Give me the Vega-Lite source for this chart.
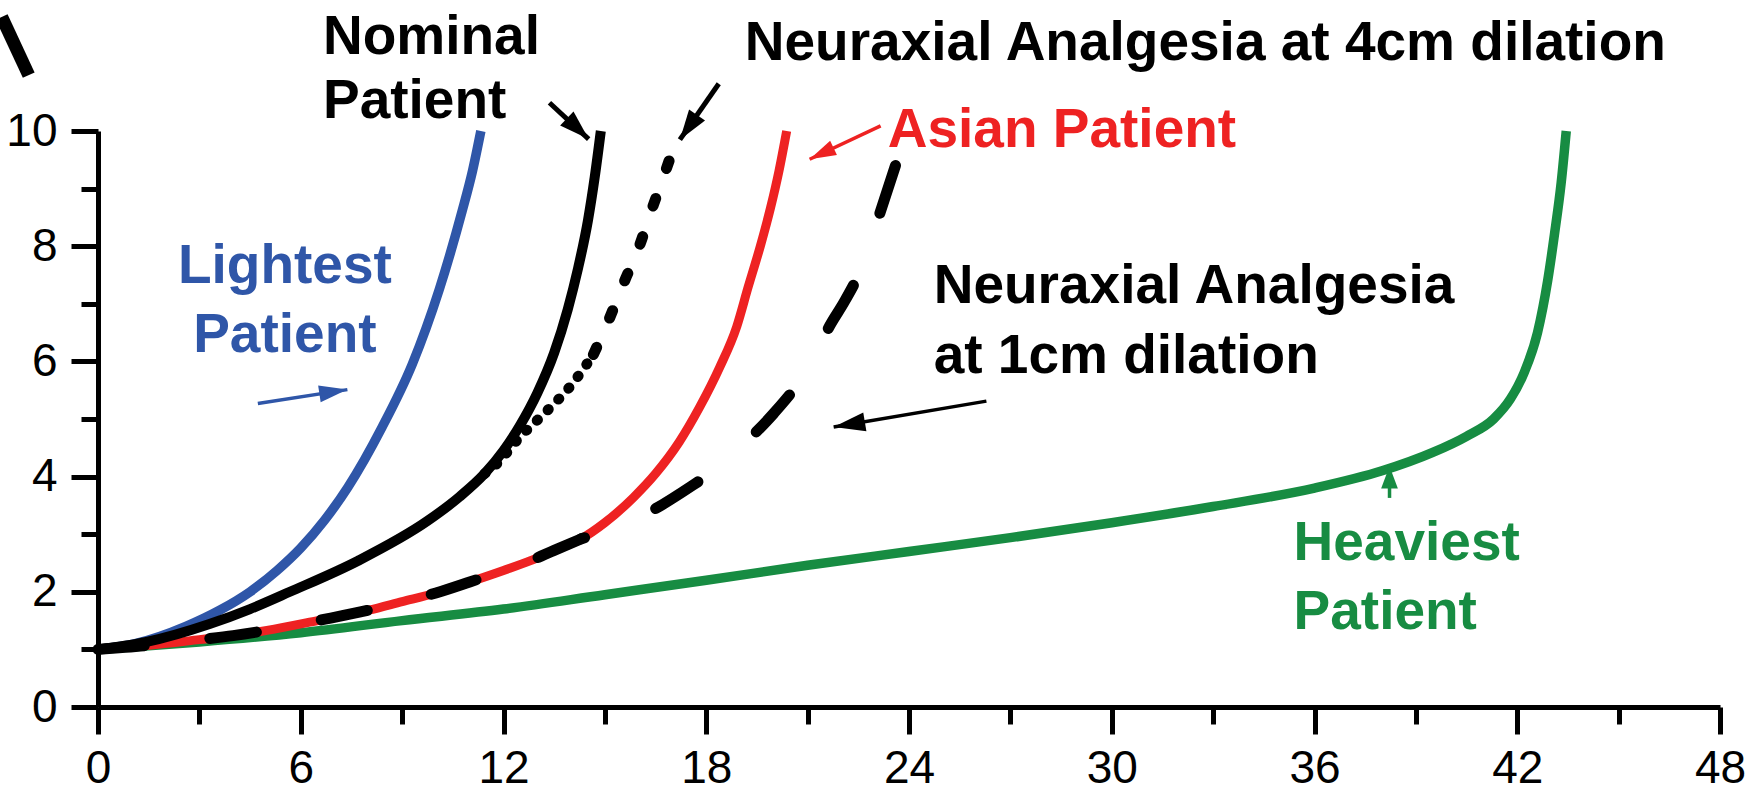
{
  "$schema": "https://vega.github.io/schema/vega-lite/v6.json",
  "width": 1622,
  "height": 576,
  "autosize": {"type": "none"},
  "padding": {"left": 98, "top": 131, "right": 28, "bottom": 87},
  "background": "white",
  "config": {
    "view": {"stroke": null},
    "axis": {
      "grid": false,
      "title": null,
      "domainColor": "black",
      "domainWidth": 5,
      "tickColor": "black",
      "tickWidth": 5,
      "labelFont": "Liberation Sans",
      "labelFontSize": 46,
      "labelColor": "black"
    },
    "text": {"font": "Liberation Sans", "fontWeight": "bold", "fontSize": 55, "baseline": "alphabetic"}
  },
  "datasets": {
    "curves": [
      {"series": "Heaviest Patient", "x": 0, "y": 1},
      {"series": "Heaviest Patient", "x": 3, "y": 1.13},
      {"series": "Heaviest Patient", "x": 6, "y": 1.29},
      {"series": "Heaviest Patient", "x": 9, "y": 1.5},
      {"series": "Heaviest Patient", "x": 12, "y": 1.7},
      {"series": "Heaviest Patient", "x": 15, "y": 1.95},
      {"series": "Heaviest Patient", "x": 18, "y": 2.2},
      {"series": "Heaviest Patient", "x": 21, "y": 2.46},
      {"series": "Heaviest Patient", "x": 24, "y": 2.7},
      {"series": "Heaviest Patient", "x": 27, "y": 2.94},
      {"series": "Heaviest Patient", "x": 30, "y": 3.2},
      {"series": "Heaviest Patient", "x": 33, "y": 3.48},
      {"series": "Heaviest Patient", "x": 36, "y": 3.8},
      {"series": "Heaviest Patient", "x": 38, "y": 4.1},
      {"series": "Heaviest Patient", "x": 39.5, "y": 4.42},
      {"series": "Heaviest Patient", "x": 40.5, "y": 4.7},
      {"series": "Heaviest Patient", "x": 41.3, "y": 5.0},
      {"series": "Heaviest Patient", "x": 41.8, "y": 5.35},
      {"series": "Heaviest Patient", "x": 42.2, "y": 5.8},
      {"series": "Heaviest Patient", "x": 42.6, "y": 6.5},
      {"series": "Heaviest Patient", "x": 42.9, "y": 7.4},
      {"series": "Heaviest Patient", "x": 43.1, "y": 8.2},
      {"series": "Heaviest Patient", "x": 43.3, "y": 9.1},
      {"series": "Heaviest Patient", "x": 43.45, "y": 10},

      {"series": "Asian Patient", "x": 0, "y": 1},
      {"series": "Asian Patient", "x": 1.5, "y": 1.07},
      {"series": "Asian Patient", "x": 3, "y": 1.17},
      {"series": "Asian Patient", "x": 4, "y": 1.24},
      {"series": "Asian Patient", "x": 5, "y": 1.33},
      {"series": "Asian Patient", "x": 6.5, "y": 1.5},
      {"series": "Asian Patient", "x": 8, "y": 1.68},
      {"series": "Asian Patient", "x": 9, "y": 1.83},
      {"series": "Asian Patient", "x": 10, "y": 1.98},
      {"series": "Asian Patient", "x": 11, "y": 2.17},
      {"series": "Asian Patient", "x": 12, "y": 2.37},
      {"series": "Asian Patient", "x": 12.8, "y": 2.54},
      {"series": "Asian Patient", "x": 13.5, "y": 2.72},
      {"series": "Asian Patient", "x": 14.3, "y": 2.92},
      {"series": "Asian Patient", "x": 15, "y": 3.2},
      {"series": "Asian Patient", "x": 15.85, "y": 3.64},
      {"series": "Asian Patient", "x": 16.5, "y": 4.05},
      {"series": "Asian Patient", "x": 17.2, "y": 4.6},
      {"series": "Asian Patient", "x": 17.8, "y": 5.2},
      {"series": "Asian Patient", "x": 18.4, "y": 5.9},
      {"series": "Asian Patient", "x": 18.9, "y": 6.6},
      {"series": "Asian Patient", "x": 19.24, "y": 7.29},
      {"series": "Asian Patient", "x": 19.6, "y": 8.0},
      {"series": "Asian Patient", "x": 19.9, "y": 8.66},
      {"series": "Asian Patient", "x": 20.15, "y": 9.3},
      {"series": "Asian Patient", "x": 20.38, "y": 10},

      {"series": "Lightest Patient", "x": 0, "y": 1},
      {"series": "Lightest Patient", "x": 1.1, "y": 1.1},
      {"series": "Lightest Patient", "x": 2.6, "y": 1.4},
      {"series": "Lightest Patient", "x": 3.6, "y": 1.68},
      {"series": "Lightest Patient", "x": 4.5, "y": 2.0},
      {"series": "Lightest Patient", "x": 5.3, "y": 2.37},
      {"series": "Lightest Patient", "x": 6, "y": 2.76},
      {"series": "Lightest Patient", "x": 6.7, "y": 3.24},
      {"series": "Lightest Patient", "x": 7.4, "y": 3.82},
      {"series": "Lightest Patient", "x": 8.4, "y": 4.85},
      {"series": "Lightest Patient", "x": 9.3, "y": 5.95},
      {"series": "Lightest Patient", "x": 10.1, "y": 7.25},
      {"series": "Lightest Patient", "x": 10.78, "y": 8.62},
      {"series": "Lightest Patient", "x": 11.08, "y": 9.3},
      {"series": "Lightest Patient", "x": 11.33, "y": 10},

      {"series": "Nominal Patient", "x": 0, "y": 1},
      {"series": "Nominal Patient", "x": 1.44, "y": 1.13},
      {"series": "Nominal Patient", "x": 3.3, "y": 1.44},
      {"series": "Nominal Patient", "x": 4.5, "y": 1.7},
      {"series": "Nominal Patient", "x": 5.68, "y": 2.0},
      {"series": "Nominal Patient", "x": 7.7, "y": 2.54},
      {"series": "Nominal Patient", "x": 9.75, "y": 3.23},
      {"series": "Nominal Patient", "x": 10.7, "y": 3.65},
      {"series": "Nominal Patient", "x": 11.44, "y": 4.05},
      {"series": "Nominal Patient", "x": 12.0, "y": 4.45},
      {"series": "Nominal Patient", "x": 12.5, "y": 4.9},
      {"series": "Nominal Patient", "x": 13.0, "y": 5.45},
      {"series": "Nominal Patient", "x": 13.5, "y": 6.15},
      {"series": "Nominal Patient", "x": 13.9, "y": 6.9},
      {"series": "Nominal Patient", "x": 14.2, "y": 7.6},
      {"series": "Nominal Patient", "x": 14.5, "y": 8.45},
      {"series": "Nominal Patient", "x": 14.7, "y": 9.2},
      {"series": "Nominal Patient", "x": 14.88, "y": 10},

      {"series": "Neuraxial Analgesia at 4cm dilation", "x": 11.44, "y": 4.05},
      {"series": "Neuraxial Analgesia at 4cm dilation", "x": 11.8, "y": 4.22},
      {"series": "Neuraxial Analgesia at 4cm dilation", "x": 12.46, "y": 4.67},
      {"series": "Neuraxial Analgesia at 4cm dilation", "x": 13.3, "y": 5.15},
      {"series": "Neuraxial Analgesia at 4cm dilation", "x": 13.98, "y": 5.57},
      {"series": "Neuraxial Analgesia at 4cm dilation", "x": 14.66, "y": 6.12},
      {"series": "Neuraxial Analgesia at 4cm dilation", "x": 15.08, "y": 6.67},
      {"series": "Neuraxial Analgesia at 4cm dilation", "x": 15.6, "y": 7.42},
      {"series": "Neuraxial Analgesia at 4cm dilation", "x": 16.0, "y": 7.97},
      {"series": "Neuraxial Analgesia at 4cm dilation", "x": 16.36, "y": 8.59},
      {"series": "Neuraxial Analgesia at 4cm dilation", "x": 16.78, "y": 9.28},
      {"series": "Neuraxial Analgesia at 4cm dilation", "x": 17.0, "y": 9.65},

      {"series": "Neuraxial Analgesia at 1cm dilation", "x": 0, "y": 1},
      {"series": "Neuraxial Analgesia at 1cm dilation", "x": 1.5, "y": 1.07},
      {"series": "Neuraxial Analgesia at 1cm dilation", "x": 3, "y": 1.17},
      {"series": "Neuraxial Analgesia at 1cm dilation", "x": 4, "y": 1.24},
      {"series": "Neuraxial Analgesia at 1cm dilation", "x": 5, "y": 1.33},
      {"series": "Neuraxial Analgesia at 1cm dilation", "x": 6.5, "y": 1.5},
      {"series": "Neuraxial Analgesia at 1cm dilation", "x": 8, "y": 1.68},
      {"series": "Neuraxial Analgesia at 1cm dilation", "x": 9, "y": 1.83},
      {"series": "Neuraxial Analgesia at 1cm dilation", "x": 10, "y": 1.98},
      {"series": "Neuraxial Analgesia at 1cm dilation", "x": 11, "y": 2.17},
      {"series": "Neuraxial Analgesia at 1cm dilation", "x": 12, "y": 2.37},
      {"series": "Neuraxial Analgesia at 1cm dilation", "x": 12.8, "y": 2.54},
      {"series": "Neuraxial Analgesia at 1cm dilation", "x": 13.5, "y": 2.72},
      {"series": "Neuraxial Analgesia at 1cm dilation", "x": 14.3, "y": 2.92},
      {"series": "Neuraxial Analgesia at 1cm dilation", "x": 15.2, "y": 3.1},
      {"series": "Neuraxial Analgesia at 1cm dilation", "x": 16.1, "y": 3.32},
      {"series": "Neuraxial Analgesia at 1cm dilation", "x": 17.6, "y": 3.85},
      {"series": "Neuraxial Analgesia at 1cm dilation", "x": 18.5, "y": 4.22},
      {"series": "Neuraxial Analgesia at 1cm dilation", "x": 19.3, "y": 4.67},
      {"series": "Neuraxial Analgesia at 1cm dilation", "x": 20.0, "y": 5.1},
      {"series": "Neuraxial Analgesia at 1cm dilation", "x": 20.7, "y": 5.6},
      {"series": "Neuraxial Analgesia at 1cm dilation", "x": 21.2, "y": 6.05},
      {"series": "Neuraxial Analgesia at 1cm dilation", "x": 21.6, "y": 6.56},
      {"series": "Neuraxial Analgesia at 1cm dilation", "x": 22.1, "y": 7.05},
      {"series": "Neuraxial Analgesia at 1cm dilation", "x": 22.5, "y": 7.5},
      {"series": "Neuraxial Analgesia at 1cm dilation", "x": 23.05, "y": 8.42},
      {"series": "Neuraxial Analgesia at 1cm dilation", "x": 23.6, "y": 9.4}
    ],
    "labels": [
      {"series": "Nominal Patient", "text": "Nominal", "align": "left", "x": 6.657, "y": 11.33},
      {"series": "Nominal Patient", "text": "Patient", "align": "left", "x": 6.657, "y": 10.23},
      {"series": "Neuraxial Analgesia at 4cm dilation", "text": "Neuraxial Analgesia at 4cm dilation", "align": "left", "x": 19.14, "y": 11.23},
      {"series": "Asian Patient", "text": "Asian Patient", "align": "left", "x": 23.37, "y": 9.72},
      {"series": "Lightest Patient", "text": "Lightest", "align": "center", "x": 5.53, "y": 7.36},
      {"series": "Lightest Patient", "text": "Patient", "align": "center", "x": 5.53, "y": 6.16},
      {"series": "Neuraxial Analgesia at 1cm dilation", "text": "Neuraxial Analgesia", "align": "left", "x": 24.73, "y": 7.01},
      {"series": "Neuraxial Analgesia at 1cm dilation", "text": "at 1cm dilation", "align": "left", "x": 24.73, "y": 5.8},
      {"series": "Heaviest Patient", "text": "Heaviest", "align": "left", "x": 35.38, "y": 2.55},
      {"series": "Heaviest Patient", "text": "Patient", "align": "left", "x": 35.38, "y": 1.35}
    ],
    "arrows": [
      {"series": "Lightest Patient", "x": 4.73, "y": 5.27, "x2": 7.38, "y2": 5.51},
      {"series": "Nominal Patient", "x": 13.36, "y": 10.49, "x2": 14.52, "y2": 9.86},
      {"series": "Neuraxial Analgesia at 4cm dilation", "x": 18.37, "y": 10.82, "x2": 17.22, "y2": 9.85},
      {"series": "Asian Patient", "x": 23.16, "y": 10.09, "x2": 21.06, "y2": 9.51},
      {"series": "Neuraxial Analgesia at 1cm dilation", "x": 26.29, "y": 5.31, "x2": 21.77, "y2": 4.86},
      {"series": "Heaviest Patient", "x": 38.22, "y": 3.63, "x2": 38.22, "y2": 4.18}
    ],
    "corner": [
      {"series": "Nominal Patient", "x": -2.85, "y": 11.98, "x2": -2.05, "y2": 10.97}
    ]
  },
  "resolve": {"axis": {"x": "independent", "y": "independent"}},
  "layer": [
    {
      "data": {"name": "curves"},
      "transform": [{"filter": "datum.series === 'Heaviest Patient'"}],
      "mark": {"type": "line", "strokeWidth": 9.5, "interpolate": "monotone"},
      "encoding": {
        "x": {"field": "x", "type": "quantitative", "scale": {"domain": [0, 48], "nice": false},
          "axis": {"orient": "bottom", "values": [0, 6, 12, 18, 24, 30, 36, 42, 48], "tickSize": 27, "labelPadding": 12, "labelFlush": false, "labelOverlap": false}},
        "y": {"field": "y", "type": "quantitative", "scale": {"domain": [0, 10], "nice": false},
          "axis": {"orient": "left", "values": [0, 2, 4, 6, 8, 10], "tickSize": 27, "labelPadding": 14, "labelFlush": false, "labelOverlap": false}},
        "color": {"field": "series", "type": "nominal", "legend": null,
          "scale": {"domain": ["Lightest Patient", "Nominal Patient", "Neuraxial Analgesia at 4cm dilation", "Asian Patient", "Neuraxial Analgesia at 1cm dilation", "Heaviest Patient"],
                    "range": ["#2f56a8", "#000000", "#000000", "#ee2222", "#000000", "#178c42"]}}
      }
    },
    {
      "data": {"name": "curves"},
      "transform": [{"filter": "datum.series === 'Asian Patient'"}],
      "mark": {"type": "line", "strokeWidth": 9, "interpolate": "monotone"},
      "encoding": {
        "x": {"field": "x", "type": "quantitative", "scale": {"domain": [0, 48], "nice": false},
          "axis": {"orient": "bottom", "values": [3, 9, 15, 21, 27, 33, 39, 45], "tickSize": 17, "labels": false, "domain": false}},
        "y": {"field": "y", "type": "quantitative", "scale": {"domain": [0, 10], "nice": false},
          "axis": {"orient": "left", "values": [1, 3, 5, 7, 9], "tickSize": 17, "labels": false, "domain": false}},
        "color": {"field": "series", "type": "nominal", "legend": null}
      }
    },
    {
      "data": {"name": "curves"},
      "transform": [{"filter": "datum.series === 'Lightest Patient'"}],
      "mark": {"type": "line", "strokeWidth": 9.5, "interpolate": "monotone"},
      "encoding": {
        "x": {"field": "x", "type": "quantitative", "scale": {"domain": [0, 48], "nice": false}, "axis": null},
        "y": {"field": "y", "type": "quantitative", "scale": {"domain": [0, 10], "nice": false}, "axis": null},
        "color": {"field": "series", "type": "nominal", "legend": null}
      }
    },
    {
      "data": {"name": "curves"},
      "transform": [{"filter": "datum.series === 'Nominal Patient'"}],
      "mark": {"type": "line", "strokeWidth": 10, "interpolate": "monotone"},
      "encoding": {
        "x": {"field": "x", "type": "quantitative", "scale": {"domain": [0, 48], "nice": false}, "axis": null},
        "y": {"field": "y", "type": "quantitative", "scale": {"domain": [0, 10], "nice": false}, "axis": null},
        "color": {"field": "series", "type": "nominal", "legend": null}
      }
    },
    {
      "data": {"name": "curves"},
      "transform": [{"filter": "datum.series === 'Neuraxial Analgesia at 4cm dilation' && datum.x <= 14.66"}],
      "mark": {"type": "line", "strokeWidth": 10.5, "interpolate": "monotone", "strokeCap": "round", "strokeDash": [1, 14]},
      "encoding": {
        "x": {"field": "x", "type": "quantitative", "scale": {"domain": [0, 48], "nice": false}, "axis": null},
        "y": {"field": "y", "type": "quantitative", "scale": {"domain": [0, 10], "nice": false}, "axis": null},
        "color": {"field": "series", "type": "nominal", "legend": null}
      }
    },
    {
      "data": {"name": "curves"},
      "transform": [{"filter": "datum.series === 'Neuraxial Analgesia at 4cm dilation' && datum.x >= 14.66"}],
      "mark": {"type": "line", "strokeWidth": 11, "interpolate": "monotone", "strokeCap": "round", "strokeDash": [8, 32]},
      "encoding": {
        "x": {"field": "x", "type": "quantitative", "scale": {"domain": [0, 48], "nice": false}, "axis": null},
        "y": {"field": "y", "type": "quantitative", "scale": {"domain": [0, 10], "nice": false}, "axis": null},
        "color": {"field": "series", "type": "nominal", "legend": null}
      }
    },
    {
      "data": {"name": "curves"},
      "transform": [{"filter": "datum.series === 'Neuraxial Analgesia at 1cm dilation' && datum.x <= 14.3"}],
      "mark": {"type": "line", "strokeWidth": 11, "interpolate": "monotone", "strokeCap": "round", "strokeDash": [47, 66]},
      "encoding": {
        "x": {"field": "x", "type": "quantitative", "scale": {"domain": [0, 48], "nice": false}, "axis": null},
        "y": {"field": "y", "type": "quantitative", "scale": {"domain": [0, 10], "nice": false}, "axis": null},
        "order": {"field": "x", "sort": "descending"},
        "color": {"field": "series", "type": "nominal", "legend": null}
      }
    },
    {
      "data": {"name": "curves"},
      "transform": [{"filter": "datum.series === 'Neuraxial Analgesia at 1cm dilation' && datum.x >= 14.3"}],
      "mark": {"type": "line", "strokeWidth": 11, "interpolate": "monotone", "strokeCap": "round", "strokeDash": [50, 77]},
      "encoding": {
        "x": {"field": "x", "type": "quantitative", "scale": {"domain": [0, 48], "nice": false}, "axis": null},
        "y": {"field": "y", "type": "quantitative", "scale": {"domain": [0, 10], "nice": false}, "axis": null},
        "order": {"field": "x", "sort": "descending"},
        "color": {"field": "series", "type": "nominal", "legend": null}
      }
    },
    {
      "data": {"name": "arrows"},
      "transform": [{"filter": "datum.series === 'Nominal Patient' || datum.series === 'Neuraxial Analgesia at 4cm dilation'"}],
      "mark": {"type": "rule", "strokeWidth": 5},
      "encoding": {
        "x": {"field": "x", "type": "quantitative", "scale": {"domain": [0, 48], "nice": false}, "axis": null},
        "y": {"field": "y", "type": "quantitative", "scale": {"domain": [0, 10], "nice": false}, "axis": null},
        "x2": {"field": "x2"},
        "y2": {"field": "y2"},
        "color": {"field": "series", "type": "nominal", "legend": null}
      }
    },
    {
      "data": {"name": "arrows"},
      "transform": [{"filter": "datum.series !== 'Nominal Patient' && datum.series !== 'Neuraxial Analgesia at 4cm dilation'"}],
      "mark": {"type": "rule", "strokeWidth": 3.5},
      "encoding": {
        "x": {"field": "x", "type": "quantitative", "scale": {"domain": [0, 48], "nice": false}, "axis": null},
        "y": {"field": "y", "type": "quantitative", "scale": {"domain": [0, 10], "nice": false}, "axis": null},
        "x2": {"field": "x2"},
        "y2": {"field": "y2"},
        "color": {"field": "series", "type": "nominal", "legend": null}
      }
    },
    {
      "data": {"name": "corner"},
      "mark": {"type": "rule", "strokeWidth": 13},
      "encoding": {
        "x": {"field": "x", "type": "quantitative", "scale": {"domain": [0, 48], "nice": false}, "axis": null},
        "y": {"field": "y", "type": "quantitative", "scale": {"domain": [0, 10], "nice": false}, "axis": null},
        "x2": {"field": "x2"},
        "y2": {"field": "y2"},
        "color": {"field": "series", "type": "nominal", "legend": null}
      }
    },
    {
      "data": {"name": "arrows"},
      "transform": [{"filter": "datum.series === 'Lightest Patient'"}],
      "mark": {"type": "point", "shape": "M0,0L-2,-0.6L-2,0.6Z", "filled": true, "opacity": 1, "size": 800, "angle": -8.5},
      "encoding": {
        "x": {"field": "x2", "type": "quantitative", "scale": {"domain": [0, 48], "nice": false}, "axis": null},
        "y": {"field": "y2", "type": "quantitative", "scale": {"domain": [0, 10], "nice": false}, "axis": null},
        "color": {"field": "series", "type": "nominal", "legend": null}
      }
    },
    {
      "data": {"name": "arrows"},
      "transform": [{"filter": "datum.series === 'Nominal Patient'"}],
      "mark": {"type": "point", "shape": "M0,0L-2,-0.65L-2,0.65Z", "filled": true, "opacity": 1, "size": 900, "angle": 43.3},
      "encoding": {
        "x": {"field": "x2", "type": "quantitative", "scale": {"domain": [0, 48], "nice": false}, "axis": null},
        "y": {"field": "y2", "type": "quantitative", "scale": {"domain": [0, 10], "nice": false}, "axis": null},
        "color": {"field": "series", "type": "nominal", "legend": null}
      }
    },
    {
      "data": {"name": "arrows"},
      "transform": [{"filter": "datum.series === 'Neuraxial Analgesia at 4cm dilation'"}],
      "mark": {"type": "point", "shape": "M0,0L-2,-0.65L-2,0.65Z", "filled": true, "opacity": 1, "size": 900, "angle": 124.9},
      "encoding": {
        "x": {"field": "x2", "type": "quantitative", "scale": {"domain": [0, 48], "nice": false}, "axis": null},
        "y": {"field": "y2", "type": "quantitative", "scale": {"domain": [0, 10], "nice": false}, "axis": null},
        "color": {"field": "series", "type": "nominal", "legend": null}
      }
    },
    {
      "data": {"name": "arrows"},
      "transform": [{"filter": "datum.series === 'Asian Patient'"}],
      "mark": {"type": "point", "shape": "M0,0L-2,-0.6L-2,0.6Z", "filled": true, "opacity": 1, "size": 700, "angle": 154.6},
      "encoding": {
        "x": {"field": "x2", "type": "quantitative", "scale": {"domain": [0, 48], "nice": false}, "axis": null},
        "y": {"field": "y2", "type": "quantitative", "scale": {"domain": [0, 10], "nice": false}, "axis": null},
        "color": {"field": "series", "type": "nominal", "legend": null}
      }
    },
    {
      "data": {"name": "arrows"},
      "transform": [{"filter": "datum.series === 'Neuraxial Analgesia at 1cm dilation'"}],
      "mark": {"type": "point", "shape": "M0,0L-2,-0.6L-2,0.6Z", "filled": true, "opacity": 1, "size": 1000, "angle": 170.4},
      "encoding": {
        "x": {"field": "x2", "type": "quantitative", "scale": {"domain": [0, 48], "nice": false}, "axis": null},
        "y": {"field": "y2", "type": "quantitative", "scale": {"domain": [0, 10], "nice": false}, "axis": null},
        "color": {"field": "series", "type": "nominal", "legend": null}
      }
    },
    {
      "data": {"name": "arrows"},
      "transform": [{"filter": "datum.series === 'Heaviest Patient'"}],
      "mark": {"type": "point", "shape": "M0,0L-2,-0.75L-2,0.75Z", "filled": true, "opacity": 1, "size": 500, "angle": -90},
      "encoding": {
        "x": {"field": "x2", "type": "quantitative", "scale": {"domain": [0, 48], "nice": false}, "axis": null},
        "y": {"field": "y2", "type": "quantitative", "scale": {"domain": [0, 10], "nice": false}, "axis": null},
        "color": {"field": "series", "type": "nominal", "legend": null}
      }
    },
    {
      "data": {"name": "labels"},
      "transform": [{"filter": "datum.align === 'left'"}],
      "mark": {"type": "text", "align": "left"},
      "encoding": {
        "x": {"field": "x", "type": "quantitative", "scale": {"domain": [0, 48], "nice": false}, "axis": null},
        "y": {"field": "y", "type": "quantitative", "scale": {"domain": [0, 10], "nice": false}, "axis": null},
        "text": {"field": "text"},
        "color": {"field": "series", "type": "nominal", "legend": null}
      }
    },
    {
      "data": {"name": "labels"},
      "transform": [{"filter": "datum.align === 'center'"}],
      "mark": {"type": "text", "align": "center"},
      "encoding": {
        "x": {"field": "x", "type": "quantitative", "scale": {"domain": [0, 48], "nice": false}, "axis": null},
        "y": {"field": "y", "type": "quantitative", "scale": {"domain": [0, 10], "nice": false}, "axis": null},
        "text": {"field": "text"},
        "color": {"field": "series", "type": "nominal", "legend": null}
      }
    }
  ]
}
